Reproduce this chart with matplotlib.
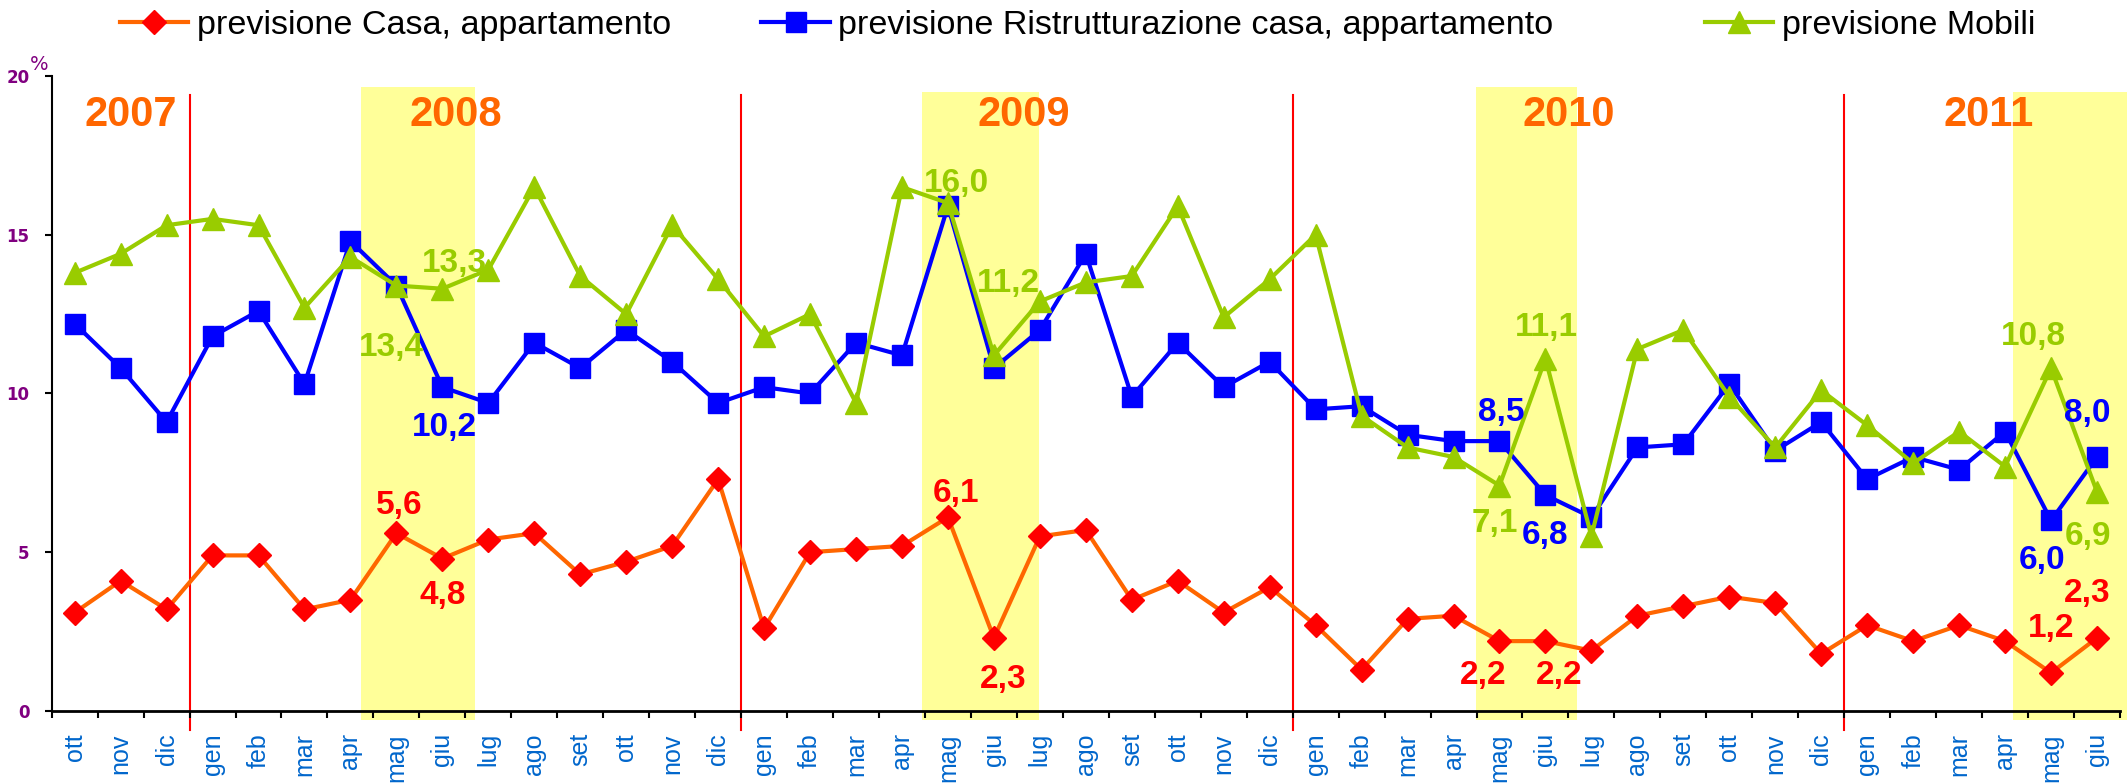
import matplotlib
matplotlib.use("Agg")
import matplotlib.pyplot as plt
from matplotlib.lines import Line2D

# months from ott 2007 to giu 2011
months = ["ott", "nov", "dic"] + 3 * ["gen", "feb", "mar", "apr", "mag", "giu",
                                      "lug", "ago", "set", "ott", "nov", "dic"] + \
         ["gen", "feb", "mar", "apr", "mag", "giu"]

casa = [3.1, 4.1, 3.2,
        4.9, 4.9, 3.2, 3.5, 5.6, 4.8, 5.4, 5.6, 4.3, 4.7, 5.2, 7.3,
        2.6, 5.0, 5.1, 5.2, 6.1, 2.3, 5.5, 5.7, 3.5, 4.1, 3.1, 3.9,
        2.7, 1.3, 2.9, 3.0, 2.2, 2.2, 1.9, 3.0, 3.3, 3.6, 3.4, 1.8,
        2.7, 2.2, 2.7, 2.2, 1.2, 2.3]

ristrutturazione = [12.2, 10.8, 9.1,
                    11.8, 12.6, 10.3, 14.8, 13.4, 10.2, 9.7, 11.6, 10.8, 12.0, 11.0, 9.7,
                    10.2, 10.0, 11.6, 11.2, 15.9, 10.8, 12.0, 14.4, 9.9, 11.6, 10.2, 11.0,
                    9.5, 9.6, 8.7, 8.5, 8.5, 6.8, 6.1, 8.3, 8.4, 10.3, 8.2, 9.1,
                    7.3, 8.0, 7.6, 8.8, 6.0, 8.0]

mobili = [13.8, 14.4, 15.3,
          15.5, 15.3, 12.7, 14.3, 13.4, 13.3, 13.9, 16.5, 13.7, 12.5, 15.3, 13.6,
          11.8, 12.5, 9.7, 16.5, 16.0, 11.2, 12.9, 13.5, 13.7, 15.9, 12.4, 13.6,
          15.0, 9.3, 8.3, 8.0, 7.1, 11.1, 5.5, 11.4, 12.0, 9.9, 8.3, 10.1,
          9.0, 7.8, 8.8, 7.7, 10.8, 6.9]

years = ["2007", "2008", "2009", "2010", "2011"]

# which points carry a value label
casa_lab = [7, 8, 19, 20, 31, 32, 43, 44]
ristr_lab = [8, 31, 32, 43, 44]
mobili_lab = [7, 8, 19, 20, 31, 32, 43, 44]

# label offsets in pixels
casa_off = [(3, 28), (0, -37), (8, 24), (9, -42), (-16, -34), (14, -34), (0, 44), (-10, 44)]
ristr_off = [(2, -40), (2, 29), (0, -40), (-9, -40), (-10, 43)]
mobili_off = [(-5, -62), (12, 25), (8, 20), (15, 72), (-5, -38), (1, 31), (-18, 32), (-9, -45)]

year_x = [1.21, 8.29, 20.66, 32.5, 41.64]
bands = [(6.23, 8.70, 19.66), (18.43, 20.98, 19.5), (30.48, 32.69, 19.66), (42.17, 44.66, 19.5)]

C_CASA_LINE = "#FF6600"
C_CASA_MARK = "#FF0000"
C_BLUE = "#0000FF"
C_GREEN = "#99CC00"
C_YEAR = "#FF6600"
C_PURPLE = "#800080"
C_TICK = "#0066CC"

plt.rcParams["font.family"] = ["Liberation Sans", "DejaVu Sans"]

fig = plt.figure(figsize=(21.27, 7.83), dpi=100)
ax = fig.add_axes([0.0243, 0.092, 0.9724, 0.8109])

x = list(range(len(months)))

# yellow bands
for x0, x1, top in bands:
    fb = ax.fill_between([x0, x1], -0.3, top, color="#FFFF99", lw=0, zorder=0)
    fb.set_clip_on(False)

# red year separators
for i, m in enumerate(months):
    if m == "gen":
        ax.plot([i - 0.5, i - 0.5], [-0.6, 19.4], color="#FF0000", lw=1.5,
                clip_on=False, zorder=1)

ax.plot(x, casa, color=C_CASA_LINE, lw=3, marker="D", ms=12,
        mfc=C_CASA_MARK, mec=C_CASA_MARK, zorder=3, clip_on=False)
ax.plot(x, ristrutturazione, color=C_BLUE, lw=3, marker="s", ms=14,
        mfc=C_BLUE, mec=C_BLUE, zorder=4, clip_on=False)
ax.plot(x, mobili, color=C_GREEN, lw=3, marker="^", ms=16,
        mfc=C_GREEN, mec=C_GREEN, zorder=5, clip_on=False)


def fmt(v):
    return f"{v:.1f}".replace(".", ",")


for series, idx, offs, col in [(casa, casa_lab, casa_off, C_CASA_MARK),
                               (ristrutturazione, ristr_lab, ristr_off, C_BLUE),
                               (mobili, mobili_lab, mobili_off, C_GREEN)]:
    for i, o in zip(idx, offs):
        ax.annotate(fmt(series[i]), xy=(i, series[i]), xytext=o, textcoords="offset pixels",
                    ha="center", va="center", fontsize=24, fontweight="bold", color=col,
                    zorder=6)

for yr, xp in zip(years, year_x):
    ax.text(xp, 18.78, yr, ha="center", va="center", fontsize=30, fontweight="bold",
            color=C_YEAR, zorder=6)

ax.set_xlim(-0.5, len(months) - 0.5)
ax.set_ylim(0, 20)

ax.set_xticks(x)
ax.set_xticklabels(months, rotation=90, fontsize=18, color=C_TICK)
ax.set_xticks([i - 0.5 for i in range(len(months) + 1)], minor=True)
ax.tick_params(axis="x", which="major", length=0, pad=16)
ax.tick_params(axis="x", which="minor", length=5, width=1.5, direction="out", color="black")

ax.set_yticks([0, 5, 10, 15, 20])
ax.set_yticklabels(["0", "5", "10", "15", "20"], fontsize=12, fontweight="bold",
                   color=C_PURPLE, family="DejaVu Sans")
ax.tick_params(axis="y", length=5, width=1.5, direction="out", pad=11)
ax.annotate("%", xy=(-0.5, 20), xytext=(-12, 12), textcoords="offset pixels",
            ha="center", va="center", fontsize=14, color=C_PURPLE, family="DejaVu Sans",
            annotation_clip=False)

for s in ["top", "right"]:
    ax.spines[s].set_visible(False)
ax.spines["left"].set_linewidth(1.5)
ax.spines["bottom"].set_linewidth(2)
ax.spines["bottom"].set_zorder(7)

# legend: three separate entries along the top
entries = [
    (Line2D([], [], color=C_CASA_LINE, lw=3, marker="D", ms=12, mfc=C_CASA_MARK, mec=C_CASA_MARK),
     "previsione Casa, appartamento", 0.0564),
    (Line2D([], [], color=C_BLUE, lw=3, marker="s", ms=14, mfc=C_BLUE, mec=C_BLUE),
     "previsione Ristrutturazione casa, appartamento", 0.358),
    (Line2D([], [], color=C_GREEN, lw=3, marker="^", ms=16, mfc=C_GREEN, mec=C_GREEN),
     "previsione Mobili", 0.8016),
]
for h, lab, xa in entries:
    fig.legend(handles=[h], labels=[lab], loc="center left", bbox_to_anchor=(xa, 0.967),
               frameon=False, fontsize=24.6, handlelength=2.0, handletextpad=0.25,
               borderpad=0, borderaxespad=0)

fig.savefig("out.png", dpi=100)
